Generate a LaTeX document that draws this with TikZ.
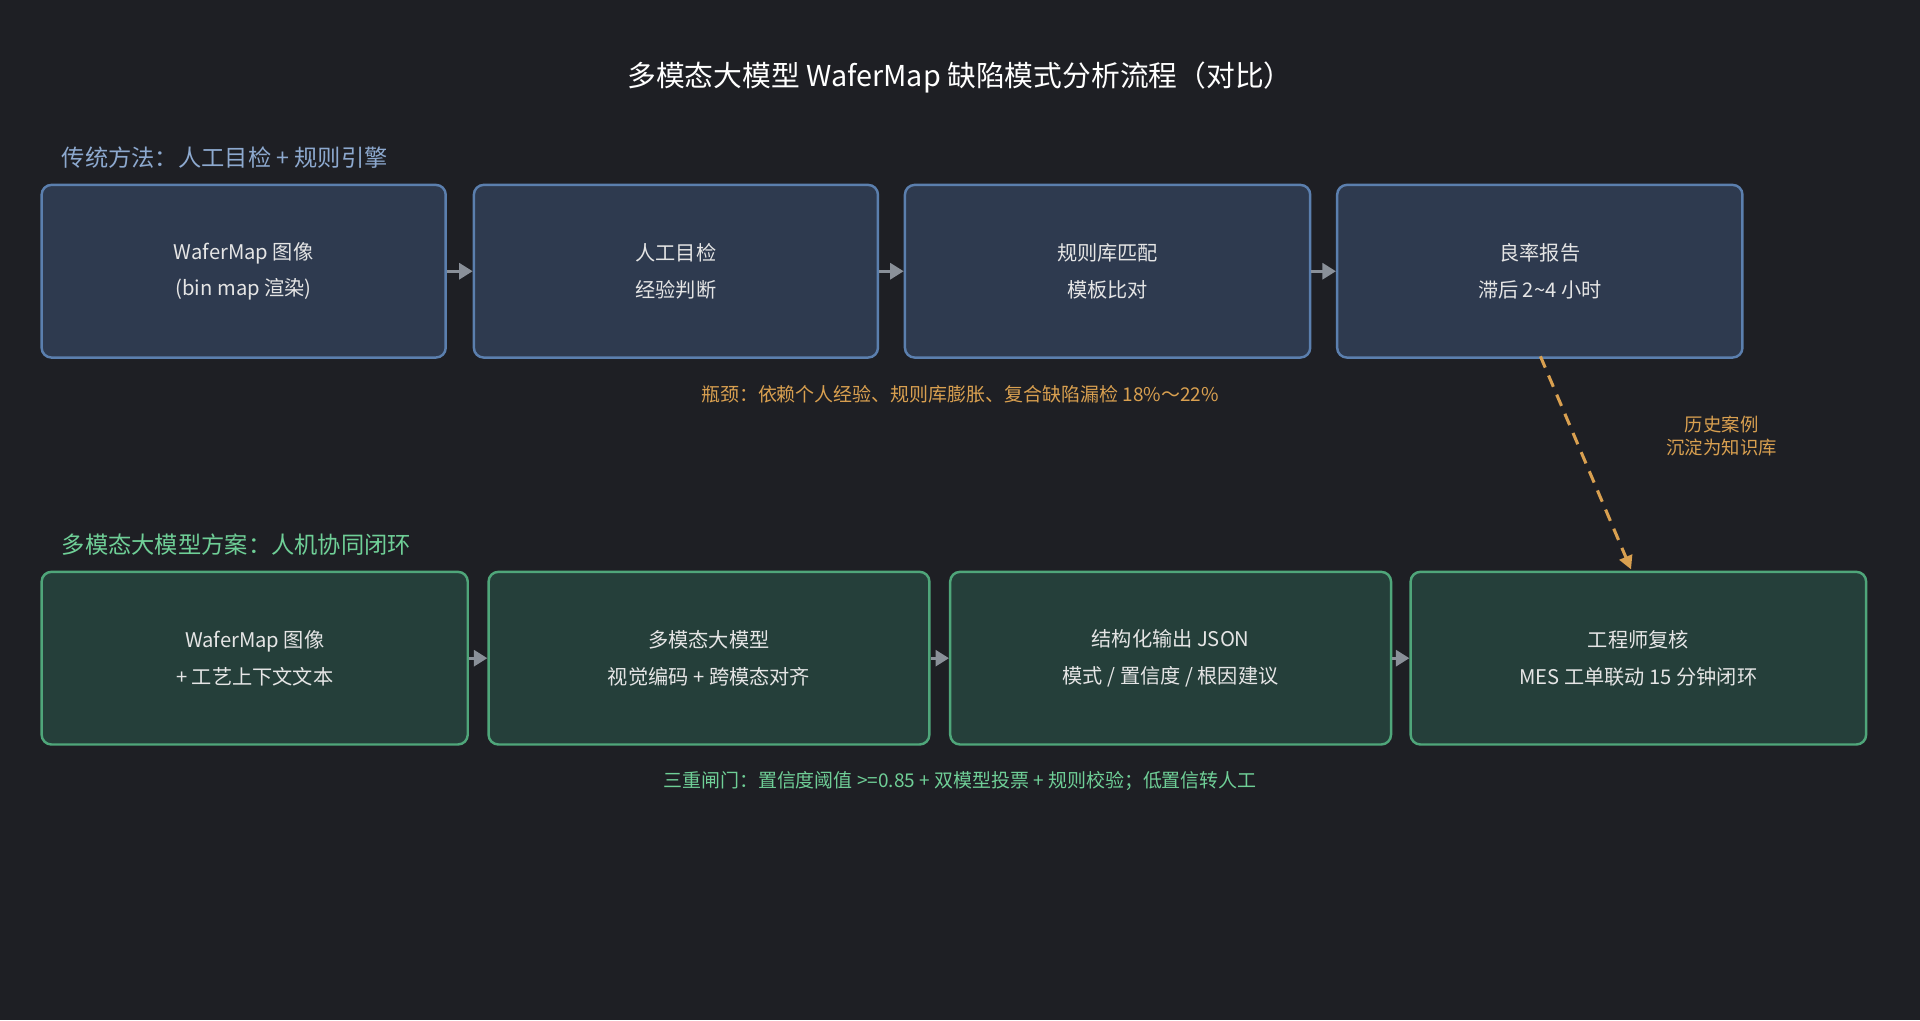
\documentclass[tikz,border=0pt]{standalone}
\usepackage{fontspec}
\setmainfont{Noto Sans CJK SC}
\usetikzlibrary{arrows.meta}
\definecolor{bgc}{HTML}{1E1F24}
\definecolor{oldfill}{HTML}{2E3A4F}
\definecolor{oldline}{HTML}{5B7FAE}
\definecolor{newfill}{HTML}{253F3A}
\definecolor{newline}{HTML}{4FA67A}
\definecolor{oldtxt}{HTML}{8DA9CF}
\definecolor{newtxt}{HTML}{6FCF97}
\definecolor{warn}{HTML}{D9A050}
\definecolor{arrowc}{HTML}{8A9099}
\tikzset{
  oldbox/.style={draw=oldline, fill=oldfill, line width=2pt, rounded corners=8pt, anchor=north west,
    text=white!90!black, align=center, font=\fontsize{16.5}{30}\selectfont},
  newbox/.style={draw=newline, fill=newfill, line width=2pt, rounded corners=8pt, anchor=north west,
    text=white!90!black, align=center, font=\fontsize{16.5}{30}\selectfont},
  flow/.style={arrowc, line width=2.5pt, -{Triangle[length=11pt,width=13pt]}},
}
\begin{document}
\begin{tikzpicture}[x=1pt,y=-1pt]
  \fill[bgc] (0,0) rectangle (1568,833);
  \useasboundingbox (0,0) rectangle (1568,833);

  % title
  \node (title) at (784,63) [text=white, font=\fontsize{23.5}{28}\selectfont] {多模态大模型 WaferMap 缺陷模式分析流程（对比）};

  % traditional flow
  \node (lab1) at (47,129) [anchor=west, text=oldtxt, font=\fontsize{19}{22}\selectfont] {传统方法：人工目检 + 规则引擎};
  \node (o1) at (33,150) [oldbox, minimum width=330pt, minimum height=141pt] {WaferMap 图像\\(bin map 渲染)};
  \node (o2) at (386,150) [oldbox, minimum width=330pt, minimum height=141pt] {人工目检\\经验判断};
  \node (o3) at (738,150) [oldbox, minimum width=331pt, minimum height=141pt] {规则库匹配\\模板比对};
  \node (o4) at (1091,150) [oldbox, minimum width=331pt, minimum height=141pt] {良率报告\\滞后 2\textasciitilde4 小时};
  \draw[flow] (o1) -- (o2);
  \draw[flow] (o2) -- (o3);
  \draw[flow] (o3) -- (o4);
  \node (warn1) at (784,322) [text=warn, font=\fontsize{15.5}{18}\selectfont] {瓶颈：依赖个人经验、规则库膨胀、复合缺陷漏检 18\%～22\%};

  % multimodal flow
  \node (lab2) at (47,445) [anchor=west, text=newtxt, font=\fontsize{19}{22}\selectfont] {多模态大模型方案：人机协同闭环};
  \node (n1) at (33,466) [newbox, minimum width=348pt, minimum height=141pt] {WaferMap 图像\\+ 工艺上下文文本};
  \node (n2) at (398,466) [newbox, minimum width=360pt, minimum height=141pt] {多模态大模型\\视觉编码 + 跨模态对齐};
  \node (n3) at (775,466) [newbox, minimum width=360pt, minimum height=141pt] {结构化输出 JSON\\模式 / 置信度 / 根因建议};
  \node (n4) at (1151,466) [newbox, minimum width=372pt, minimum height=141pt] {工程师复核\\MES 工单联动 15 分钟闭环};
  \draw[flow] (n1) -- (n2);
  \draw[flow] (n2) -- (n3);
  \draw[flow] (n3) -- (n4);
  \node (gate) at (784,638) [text=newtxt, font=\fontsize{15.5}{18}\selectfont] {三重闸门：置信度阈值 >=0.85 + 双模型投票 + 规则校验；低置信转人工};

  % knowledge feedback
  \coordinate (kb1) at (1258,291);
  \coordinate (kb2) at (1332,465);
  \draw[warn, line width=2.5pt, dash pattern=on 10pt off 7pt, -{Triangle[length=11pt,width=11pt]}] (kb1) -- (kb2);
  \node (kb) at (1406,356) [text=warn, align=center, font=\fontsize{15}{19}\selectfont] {历史案例\\沉淀为知识库};
\end{tikzpicture}
\end{document}
